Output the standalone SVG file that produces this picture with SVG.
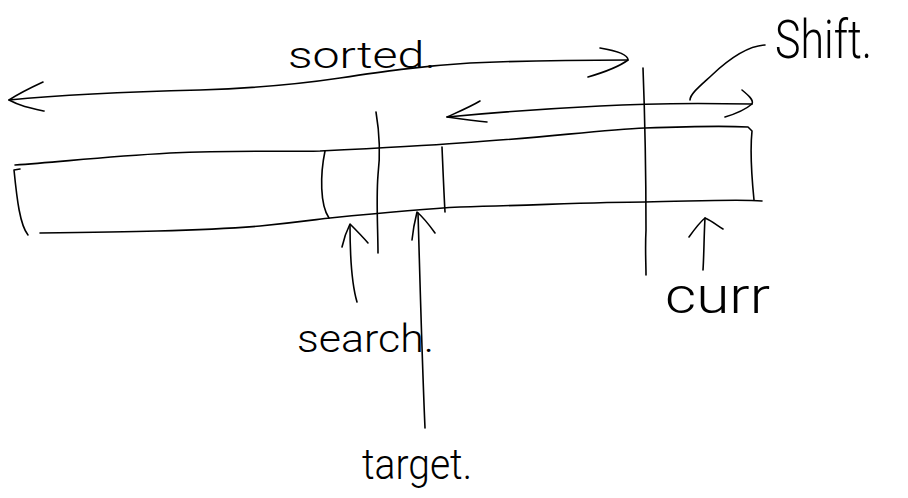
<svg xmlns="http://www.w3.org/2000/svg" width="908" height="498" viewBox="0 0 908 498">
<style>
.s{fill:none;stroke:#000;stroke-width:1.6;stroke-linecap:round;stroke-linejoin:round}
.t{font-family:Roboto,"Liberation Sans",Arial,sans-serif;font-weight:300;fill:#000}
</style>
<rect width="908" height="498" fill="#fff"/>
<g id="array">
<path class="s" d="M15,165 C60,162 100,157 170,153 C240,150 280,152 320,151 C380,148 420,146 460,143 C540,138 600,130 645,128 C700,126 730,126 748,127 L752,131 C750,150 752,180 754,200"/>
<path class="s" d="M40,233 C120,232 200,231 260,226 C300,222 320,219 330,218 C380,213 420,209 460,207 C540,205 600,202 645,202 C700,201 740,199 762,201"/>
<path class="s" d="M20,169 L14,170 C17,200 20,225 28,235"/>
<path class="s" d="M325,151 C320,175 320,205 329,218"/>
<path class="s" d="M376,112 C379,130 381,150 378,175 C376,200 378,230 378,253"/>
<path class="s" d="M442,147 C443,170 444,195 445,212"/>
<path class="s" d="M643,68 C645,120 646,180 646,230 C645,250 646,262 646,275"/>
</g>
<g id="connectors">
<g id="sorted-arrow">
<path class="s" d="M9,100 C60,95 120,92 200,90 C260,88 300,84 340,78 C380,72 420,66 470,63 C540,60 590,60 628,60"/>
<path class="s" d="M43,82 C30,88 18,94 9,100 C20,106 30,108 44,111"/>
<path class="s" d="M600,48 C612,50 628,54 628,60 C620,66 605,72 588,77"/>
</g>
<g id="shift-arrow">
<path class="s" d="M447,117 C500,112 560,108 600,106 C650,103 700,103 752,104"/>
<path class="s" d="M480,101 C470,107 458,112 447,117 C460,119 472,121 487,122"/>
<path class="s" d="M742,90 C748,95 754,100 752,104 C745,110 735,114 725,117"/>
<path class="s" d="M690,100 C690,94 700,86 712,75 C730,58 748,46 765,45"/>
</g>
<g id="search-arrow">
<path class="s" d="M350,225 C350,255 352,285 357,302"/>
<path class="s" d="M342,247 C344,238 347,230 350,224 C356,230 362,236 368,243"/>
</g>
<g id="target-arrow">
<path class="s" d="M418,213 C420,280 422,360 425,428"/>
<path class="s" d="M412,240 C413,230 415,220 417,212 C424,218 430,226 435,233"/>
</g>
<g id="curr-arrow">
<path class="s" d="M705,218 C704,235 704,255 703,270"/>
<path class="s" d="M689,237 C694,230 700,222 705,218 C712,221 718,226 723,229"/>
</g>
</g>
<g id="labels">
<text id="label-sorted" class="t" x="288" y="68" font-size="36" textLength="148" lengthAdjust="spacingAndGlyphs">sorted.</text>
<text id="label-shift" class="t" x="775" y="58" font-size="54" textLength="97" lengthAdjust="spacingAndGlyphs">Shift.</text>
<text id="label-curr" class="t" x="665" y="313" font-size="50" textLength="105" lengthAdjust="spacingAndGlyphs">curr</text>
<text id="label-search" class="t" x="297" y="352" font-size="38" textLength="137" lengthAdjust="spacingAndGlyphs">search.</text>
<text id="label-target" class="t" x="362" y="479" font-size="42" textLength="110" lengthAdjust="spacingAndGlyphs">target.</text>
</g>
</svg>
